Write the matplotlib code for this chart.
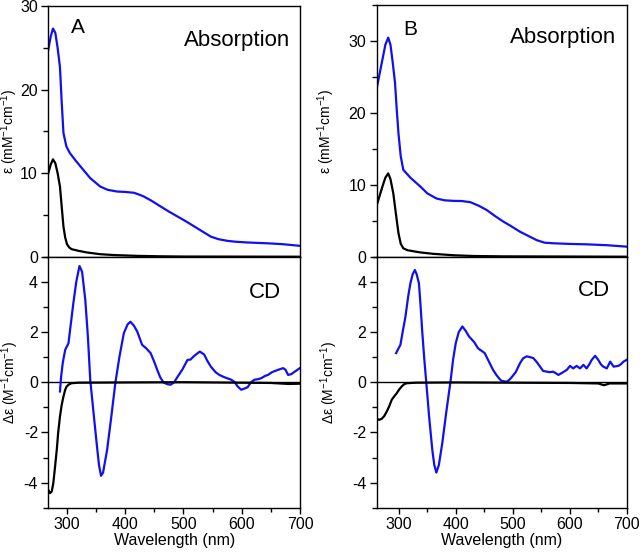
import matplotlib
matplotlib.use("Agg")
import matplotlib.pyplot as plt
from matplotlib.ticker import MultipleLocator

plt.rcParams['font.family'] = ['Liberation Sans', 'DejaVu Sans']
plt.rcParams['mathtext.fontset'] = 'custom'
plt.rcParams['mathtext.rm'] = 'Liberation Sans'
plt.rcParams['mathtext.it'] = 'Liberation Sans:italic'
plt.rcParams['axes.unicode_minus'] = False

# ---------------- Data ----------------
# Panel A absorption
a_abs_blue_wl = [268, 272, 276, 280, 284, 288, 291, 294, 299, 305, 315, 328, 340, 357, 370, 386, 400, 415,
                 425, 432, 445, 461, 475, 490, 505, 519, 533, 547, 560, 575, 588, 610, 645, 670, 700]
a_abs_blue = [24.8, 26.3, 27.3, 26.8, 25.0, 22.7, 18.5, 14.8, 13.2, 12.4, 11.5, 10.4, 9.4, 8.4, 8.0, 7.8, 7.75,
              7.65, 7.4, 7.2, 6.7, 6.0, 5.4, 4.8, 4.2, 3.6, 3.0, 2.4, 2.1, 1.9, 1.8, 1.7, 1.6, 1.5, 1.3]
a_abs_black_wl = [268, 272, 276, 280, 284, 288, 291, 294, 297, 300, 304, 308, 320, 335, 357, 380, 420, 460, 500, 700]
a_abs_black = [10.0, 11.0, 11.65, 11.2, 10.0, 8.4, 6.0, 3.6, 2.3, 1.5, 1.1, 0.9, 0.7, 0.5, 0.3, 0.2, 0.1, 0.05,
               0.02, 0.0]

# Panel B absorption
b_abs_blue_wl = [261, 266, 271, 276, 281, 285, 289, 293, 296, 299, 303, 307.5, 320, 337, 350, 366, 380, 396, 410,
                 425, 440, 454, 468, 483, 498, 512, 527, 542, 556, 571, 600, 630, 665, 700]
b_abs_blue = [23.5, 25.5, 27.5, 29.5, 30.5, 29.5, 27.0, 24.2, 20.5, 17.2, 14.0, 12.1, 11.0, 9.8, 8.8, 8.1, 7.85,
              7.77, 7.75, 7.6, 7.1, 6.5, 5.7, 4.9, 4.2, 3.5, 2.9, 2.3, 1.95, 1.87, 1.78, 1.72, 1.6, 1.4]
b_abs_black_wl = [261, 266, 271, 276, 281, 285, 290, 294, 299, 303, 307.5, 315, 337, 360, 396, 430, 480, 700]
b_abs_black = [7.2, 8.5, 9.8, 11.0, 11.6, 10.8, 8.8, 6.3, 3.3, 1.8, 1.17, 0.9, 0.6, 0.4, 0.2, 0.1, 0.05, 0.0]

# Panel A CD
a_cd_blue_wl = [288, 290, 293, 297, 302.6, 306, 311, 316, 321.5, 326, 331.5, 336, 340, 346, 351.6, 355, 358.5,
                362, 368.9, 376, 383, 390, 397.6, 404, 409, 415, 420.6, 429, 436, 443.6, 450, 455, 460, 465.5,
                472, 478, 484, 490, 498, 507, 512, 518.5, 528, 535.6, 541, 547, 555, 561.6, 570, 576, 582, 588,
                593, 599, 605, 610, 616, 622, 628, 633.5, 640, 645, 652, 662, 671, 675, 679.6, 685, 691, 699.7]
a_cd_blue = [-0.37, 0.22, 0.8, 1.29, 1.55, 2.2, 3.15, 4.0, 4.63, 4.4, 3.28, 1.8, 0.09, -1.3, -2.57, -3.3, -3.73,
             -3.6, -2.7, -1.4, -0.04, 1.0, 1.95, 2.3, 2.41, 2.25, 2.02, 1.49, 1.35, 1.16, 0.8, 0.49, 0.2, 0.0,
             -0.08, -0.1, 0.0, 0.22, 0.5, 0.89, 0.9, 1.05, 1.22, 1.1, 0.85, 0.62, 0.4, 0.29, 0.2, 0.15, 0.1, 0.0,
             -0.17, -0.3, -0.25, -0.2, 0.0, 0.1, 0.12, 0.16, 0.25, 0.29, 0.4, 0.49, 0.56, 0.5, 0.29, 0.32, 0.42,
             0.56]
a_cd_black_wl = [268, 271, 274, 276.6, 279, 282.5, 285, 288, 291, 294, 297, 299.5, 304, 308, 320, 400, 500, 600,
                 650, 680, 700]
a_cd_black = [-4.29, -4.42, -4.35, -4.02, -3.5, -2.7, -2.0, -1.37, -0.9, -0.57, -0.3, -0.17, -0.08, -0.04, -0.02,
              -0.01, 0.0, -0.02, -0.03, -0.07, -0.06]

# Panel B CD
b_cd_blue_wl = [294.9, 298, 302.5, 306, 311.3, 316, 320, 324, 327.9, 331, 335, 338, 341, 344.5, 348, 353, 358.5,
                362, 365.6, 370, 376, 383, 390.8, 395, 399.6, 405, 411.3, 417, 423, 432, 438.8, 445, 450.5,
                459.3, 465, 471, 477, 480.5, 489.3, 494, 498, 505, 512.6, 518, 524.4, 530, 536, 542, 547.8, 553,
                559.6, 565, 571, 576, 580, 587, 594.7, 600.5, 606, 612, 618, 624, 629.5, 634, 638.6, 644.5, 650,
                655, 659, 665, 671, 677, 685.5, 690, 694.4, 700]
b_cd_blue = [1.16, 1.3, 1.49, 1.95, 2.61, 3.4, 3.94, 4.3, 4.47, 4.3, 3.94, 3.0, 1.95, 0.9, -0.04, -1.4, -2.7,
             -3.3, -3.6, -3.3, -2.43, -1.2, 0.09, 0.9, 1.55, 2.0, 2.22, 2.05, 1.82, 1.6, 1.35, 1.25, 1.16, 0.76,
             0.5, 0.29, 0.12, 0.05, 0.02, 0.1, 0.2, 0.4, 0.76, 0.95, 1.03, 1.0, 0.96, 0.8, 0.62, 0.45, 0.42, 0.4,
             0.42, 0.35, 0.29, 0.38, 0.49, 0.65, 0.55, 0.65, 0.55, 0.69, 0.55, 0.7, 0.89, 1.05, 0.89, 0.7, 0.62,
             0.55, 0.82, 0.62, 0.65, 0.72, 0.82, 0.89]
b_cd_black_wl = [260.8, 265, 269.6, 274, 278.4, 283, 287.2, 292, 296, 300, 304.7, 309, 313.5, 330, 400, 500, 600,
                 650, 660, 670, 700]
b_cd_black = [-1.46, -1.5, -1.46, -1.35, -1.17, -0.95, -0.7, -0.55, -0.44, -0.3, -0.17, -0.08, -0.04, -0.02,
              -0.01, -0.02, -0.03, -0.05, -0.12, -0.05, -0.05]

xticks = [300, 400, 500, 600, 700]

# ---------------- Figure ----------------
fig = plt.figure(figsize=(6.4, 5.57), dpi=100)
W, H = 640.0, 557.0


def ax_rect(x0, x1, ytop, ybot):
    return [x0 / W, 1 - ybot / H, (x1 - x0) / W, (ybot - ytop) / H]


axA1 = fig.add_axes(ax_rect(48.3, 300, 6, 256.7))
axA2 = fig.add_axes(ax_rect(48.3, 300, 256.7, 507.7))
axB1 = fig.add_axes(ax_rect(376.7, 626.7, 5.3, 256.7))
axB2 = fig.add_axes(ax_rect(376.7, 626.7, 256.7, 507.7))

BLUE = '#1010f0'
LW = 1.6

for ax in (axA1, axA2, axB1, axB2):
    for s in ax.spines.values():
        s.set_linewidth(1.0)
        s.set_color('black')
    ax.tick_params(which='both', direction='out', width=1.0, labelsize=11.5, pad=2.5)
    ax.tick_params(axis='y', which='major', length=5)
    ax.tick_params(axis='y', which='minor', length=3.5)
    ax.tick_params(axis='x', which='major', length=4)
    ax.tick_params(axis='x', which='minor', length=3)

# Panel A
axA1.plot(a_abs_blue_wl, a_abs_blue, color=BLUE, lw=LW)
axA1.plot(a_abs_black_wl, a_abs_black, color='black', lw=LW)
axA1.set_xlim(268, 700)
axA1.set_ylim(0, 30)
axA1.yaxis.set_major_locator(MultipleLocator(10))
axA1.yaxis.set_minor_locator(MultipleLocator(5))
axA1.tick_params(axis='x', which='both', bottom=False, labelbottom=False)

axA2.axhline(0, color='black', lw=1.0)
axA2.plot(a_cd_blue_wl, a_cd_blue, color=BLUE, lw=LW)
axA2.plot(a_cd_black_wl, a_cd_black, color='black', lw=LW)
axA2.set_xlim(268, 700)
axA2.set_ylim(-5, 5)

# Panel B
axB1.plot(b_abs_blue_wl, b_abs_blue, color=BLUE, lw=LW)
axB1.plot(b_abs_black_wl, b_abs_black, color='black', lw=LW)
axB1.set_xlim(260.8, 700)
axB1.set_ylim(0, 35)
axB1.yaxis.set_major_locator(MultipleLocator(10))
axB1.yaxis.set_minor_locator(MultipleLocator(5))
axB1.tick_params(axis='x', which='both', bottom=False, labelbottom=False)

axB2.axhline(0, color='black', lw=1.0)
axB2.plot(b_cd_blue_wl, b_cd_blue, color=BLUE, lw=LW)
axB2.plot(b_cd_black_wl, b_cd_black, color='black', lw=LW)
axB2.set_xlim(260.8, 700)
axB2.set_ylim(-5, 5)

for ax in (axA2, axB2):
    ax.set_xticks(xticks)
    ax.xaxis.set_minor_locator(MultipleLocator(50))
    ax.set_yticks([-4, -2, 0, 2, 4])
    ax.yaxis.set_minor_locator(MultipleLocator(1))
    ax.set_xlabel('Wavelength (nm)', fontsize=11.5, labelpad=1)

for ax in (axA1, axB1):
    ax.set_xticks([])

ylab_abs = r'ε (mM$^{\mathregular{-1}}$cm$^{\mathregular{-1}}$)'
ylab_cd = r'Δε (M$^{\mathregular{-1}}$cm$^{\mathregular{-1}}$)'
axA1.set_ylabel(ylab_abs, fontsize=10)
axA1.yaxis.set_label_coords(-0.112, 0.5)
axA2.set_ylabel(ylab_cd, fontsize=10)
axA2.yaxis.set_label_coords(-0.110, 0.5)
axB1.set_ylabel(ylab_abs, fontsize=10)
axB1.yaxis.set_label_coords(-0.160, 0.5)
axB2.set_ylabel(ylab_cd, fontsize=10)
axB2.yaxis.set_label_coords(-0.145, 0.5)

axA1.text(0.118, 0.916, 'A', transform=axA1.transAxes, fontsize=15, ha='center', va='center')
axB1.text(0.133, 0.902, 'B', transform=axB1.transAxes, fontsize=15, ha='center', va='center')
axA1.text(0.96, 0.864, 'Absorption', transform=axA1.transAxes, fontsize=16, ha='right', va='center')
axB1.text(0.957, 0.87, 'Absorption', transform=axB1.transAxes, fontsize=16, ha='right', va='center')
axA2.text(0.924, 0.857, 'CD', transform=axA2.transAxes, fontsize=16, ha='right', va='center')
axB2.text(0.933, 0.867, 'CD', transform=axB2.transAxes, fontsize=16, ha='right', va='center')

fig.savefig('out.png', dpi=100)
